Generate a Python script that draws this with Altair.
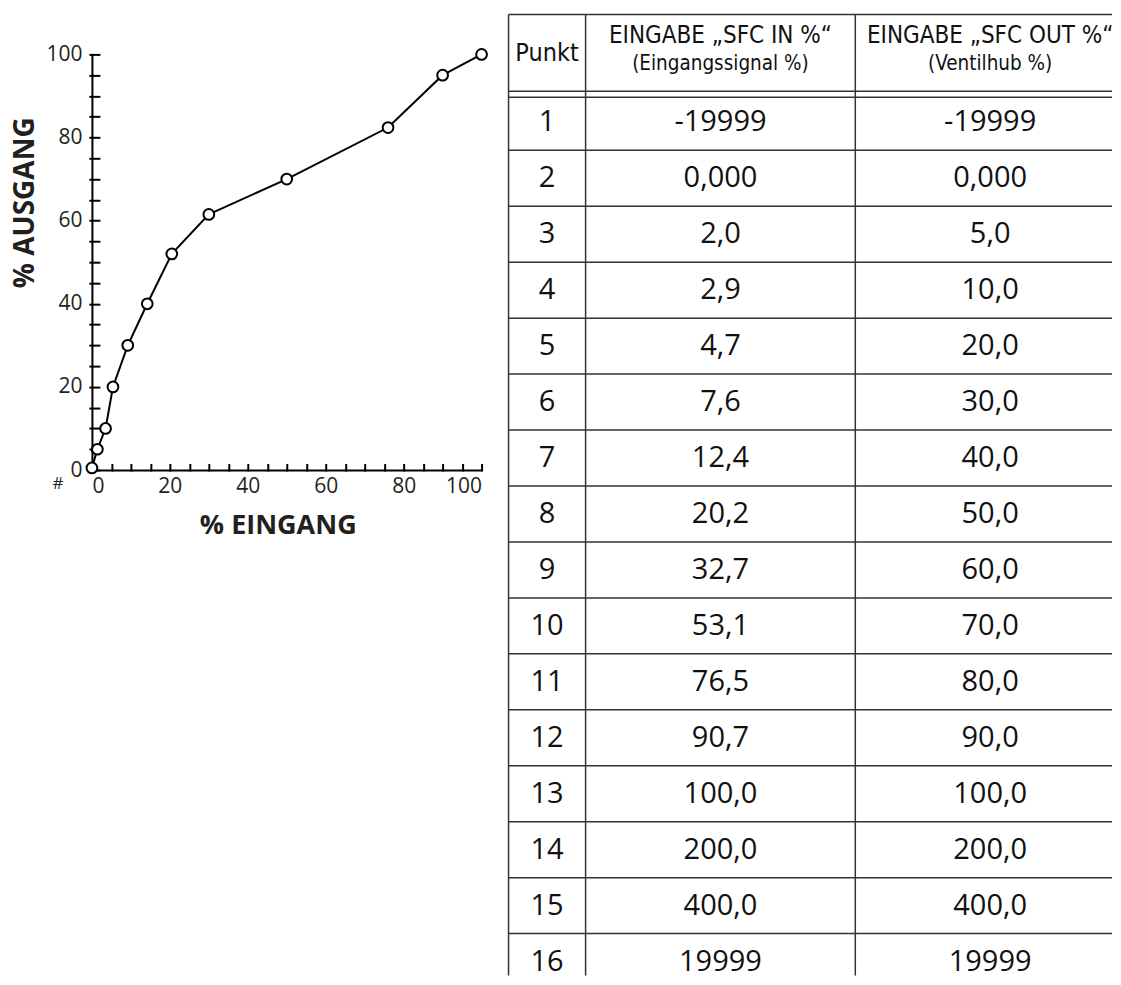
import altair as alt
import pandas as pd

# ---------------- data: characteristic curve ----------------
curve_in = [0, 1.4, 3.5, 5.4, 9.2, 14.2, 20.5, 30.0, 50.0, 76.0, 90.0, 100.0]
curve_out = [0.5, 5, 10, 20, 30, 40, 52, 61.5, 70, 82.4, 95, 100]

label_values = [0, 20, 40, 60, 80, 100]
minor_values = [0, 5, 10, 15, 20, 25, 30, 35, 40, 45, 50, 55, 60, 65, 70, 75, 80, 85, 90, 95, 100]

x_title = "% EINGANG"
y_title = "% AUSGANG"
origin_mark = ["#"]

# ---------------- data: table ----------------
punkt = ["1", "2", "3", "4", "5", "6", "7", "8", "9", "10", "11", "12", "13", "14", "15", "16"]
sfc_in = ["-19999", "0,000", "2,0", "2,9", "4,7", "7,6", "12,4", "20,2", "32,7", "53,1",
          "76,5", "90,7", "100,0", "200,0", "400,0", "19999"]
sfc_out = ["-19999", "0,000", "5,0", "10,0", "20,0", "30,0", "40,0", "50,0", "60,0", "70,0",
           "80,0", "90,0", "100,0", "200,0", "400,0", "19999"]
header_main = ["Punkt", "EINGABE \u201eSFC IN %\u201c", "EINGABE \u201eSFC OUT %\u201c"]
header_sub = ["", "(Eingangssignal %)", "(Ventilhub %)"]
col_units = [2, 7, 7]

# ---------------- layout ----------------
PLOT_W, PLOT_H = 390, 456
Y_RANGE = [456, 40]
ROW_PX = 56
UNIT_PX = 617 / 16          # px per column unit of the full table
TABLE_W, TABLE_H = 604, 962 # visible part of the table (it runs off the page)
HDR = 80 / ROW_PX           # header height in row units
GAP = 3 / ROW_PX            # half gap of the double line
X_MAX = TABLE_W / UNIT_PX
Y_MAX = -HDR + TABLE_H / ROW_PX

FONT = "Open Sans"
NARROW = "DejaVu Sans Condensed, Liberation Sans Narrow, sans-serif"
INK = "#231f20"

# ================= plot =================
curve = pd.DataFrame({"x": curve_in, "y": curve_out})
xs = alt.Scale(domain=[0, 100], nice=False, zero=False)
ys = alt.Scale(domain=[0, 100], range=Y_RANGE, nice=False, zero=False)

line = alt.Chart(curve).mark_line(color="black", strokeWidth=2).encode(
    x=alt.X("x:Q", scale=xs, axis=alt.Axis(
        orient="bottom", values=label_values, ticks=False, tickSize=0, grid=False,
        domainColor="black", domainWidth=2,
        labelFont=FONT, labelFontSize=21, labelColor=INK, labelPadding=5,
        title=x_title, titleFont=FONT, titleFontSize=27, titleFontWeight="bold",
        titleColor=INK, titleX=186, titleY=56, titleAlign="center", titleBaseline="middle")),
    y=alt.Y("y:Q", scale=ys, axis=alt.Axis(
        orient="left", values=label_values, ticks=False, tickSize=0, grid=False,
        domainColor="black", domainWidth=2,
        labelFont=FONT, labelFontSize=21, labelColor=INK, labelPadding=10,
        title=y_title, titleFont=FONT, titleFontSize=28, titleFontWeight="bold",
        titleColor=INK, titleAngle=270, titleX=-66, titleY=188,
        titleAlign="center", titleBaseline="middle")),
)

points = alt.Chart(curve).mark_point(
    shape="circle", filled=True, fill="white", stroke="black",
    strokeWidth=2, size=115, opacity=1).encode(
    x=alt.X("x:Q", scale=xs, axis=alt.Axis(
        orient="top", offset=-457, values=minor_values, labels=False, domain=False,
        ticks=True, tickSize=7.5, tickWidth=2, tickColor="black", grid=False, title=None)),
    y=alt.Y("y:Q", scale=ys, axis=alt.Axis(
        orient="right", offset=-(PLOT_W + 3), values=minor_values, labels=False, domain=False,
        ticks=True, tickSize=11, tickWidth=2, tickColor="black", grid=False, title=None)),
)

hash_df = pd.DataFrame({"x": [0], "y": [0], "t": origin_mark})
hash_mark = alt.Chart(hash_df).mark_text(
    font=FONT, fontSize=17, color=INK, dx=-34, dy=14, baseline="middle").encode(
    x=alt.X("x:Q", scale=xs, axis=None),
    y=alt.Y("y:Q", scale=ys, axis=None),
    text="t:N",
)

plot = alt.layer(line, points, hash_mark).resolve_axis(
    x="independent", y="independent").properties(width=PLOT_W, height=PLOT_H)

# ================= table =================
edges = [0]
for w in col_units:
    edges.append(edges[-1] + w)
centers = [(edges[i] + edges[i + 1]) / 2 for i in range(len(col_units))]
n_rows = len(punkt)

tx = alt.Scale(domain=[0, X_MAX], range=[0, TABLE_W], nice=False, zero=False)
ty = alt.Scale(domain=[-HDR, Y_MAX], range=[0, TABLE_H], nice=False, zero=False)

cells = []
for i in range(n_rows):
    for c, col in enumerate([punkt, sfc_in, sfc_out]):
        cells.append({"cx": centers[c], "cy": i + 0.5, "t": col[i]})
cells = pd.DataFrame(cells)

hdr_rows = [{"cx": centers[0], "cy": -0.74, "t": header_main[0], "s": 25}]
for c in (1, 2):
    hdr_rows.append({"cx": centers[c], "cy": -1.04, "t": header_main[c], "s": 24})
    hdr_rows.append({"cx": centers[c], "cy": -0.55, "t": header_sub[c], "s": 20.5})
hdr = pd.DataFrame(hdr_rows)

v_edges = [e for e in edges if e <= X_MAX]
vlines = pd.DataFrame({"x": v_edges, "y1": [-HDR] * len(v_edges), "y2": [Y_MAX] * len(v_edges)})
h_y = [-HDR, -GAP, GAP] + [float(k) for k in range(1, n_rows + 1) if k <= Y_MAX]
hlines = pd.DataFrame({"y": h_y, "x1": [0] * len(h_y), "x2": [X_MAX] * len(h_y)})

LINE_C = "#333333"
vrule = alt.Chart(vlines).mark_rule(color=LINE_C, strokeWidth=1.5).encode(
    x=alt.X("x:Q", scale=tx, axis=None),
    y=alt.Y("y1:Q", scale=ty, axis=None), y2="y2:Q")
hrule = alt.Chart(hlines).mark_rule(color=LINE_C, strokeWidth=1.5).encode(
    y=alt.Y("y:Q", scale=ty, axis=None),
    x=alt.X("x1:Q", scale=tx, axis=None), x2="x2:Q")
body = alt.Chart(cells).mark_text(font=FONT, fontSize=29, color="#111111",
                                  baseline="middle", align="center").encode(
    x=alt.X("cx:Q", scale=tx, axis=None),
    y=alt.Y("cy:Q", scale=ty, axis=None),
    text="t:N")
head = alt.Chart(hdr).mark_text(font=NARROW, color="#111111",
                                baseline="middle", align="center", clip=True).encode(
    x=alt.X("cx:Q", scale=tx, axis=None),
    y=alt.Y("cy:Q", scale=ty, axis=None),
    size=alt.Size("s:Q", scale=None, legend=None),
    text="t:N")

table = alt.layer(vrule, hrule, body, head).properties(width=TABLE_W, height=TABLE_H)

chart = alt.hconcat(plot, table, spacing=27, bounds="flush").properties(
    padding={"left": 4, "top": 5, "right": 0, "bottom": 0}
).configure_view(stroke=None)

chart.save("out.html", embed_options={"renderer": "svg", "actions": False})
